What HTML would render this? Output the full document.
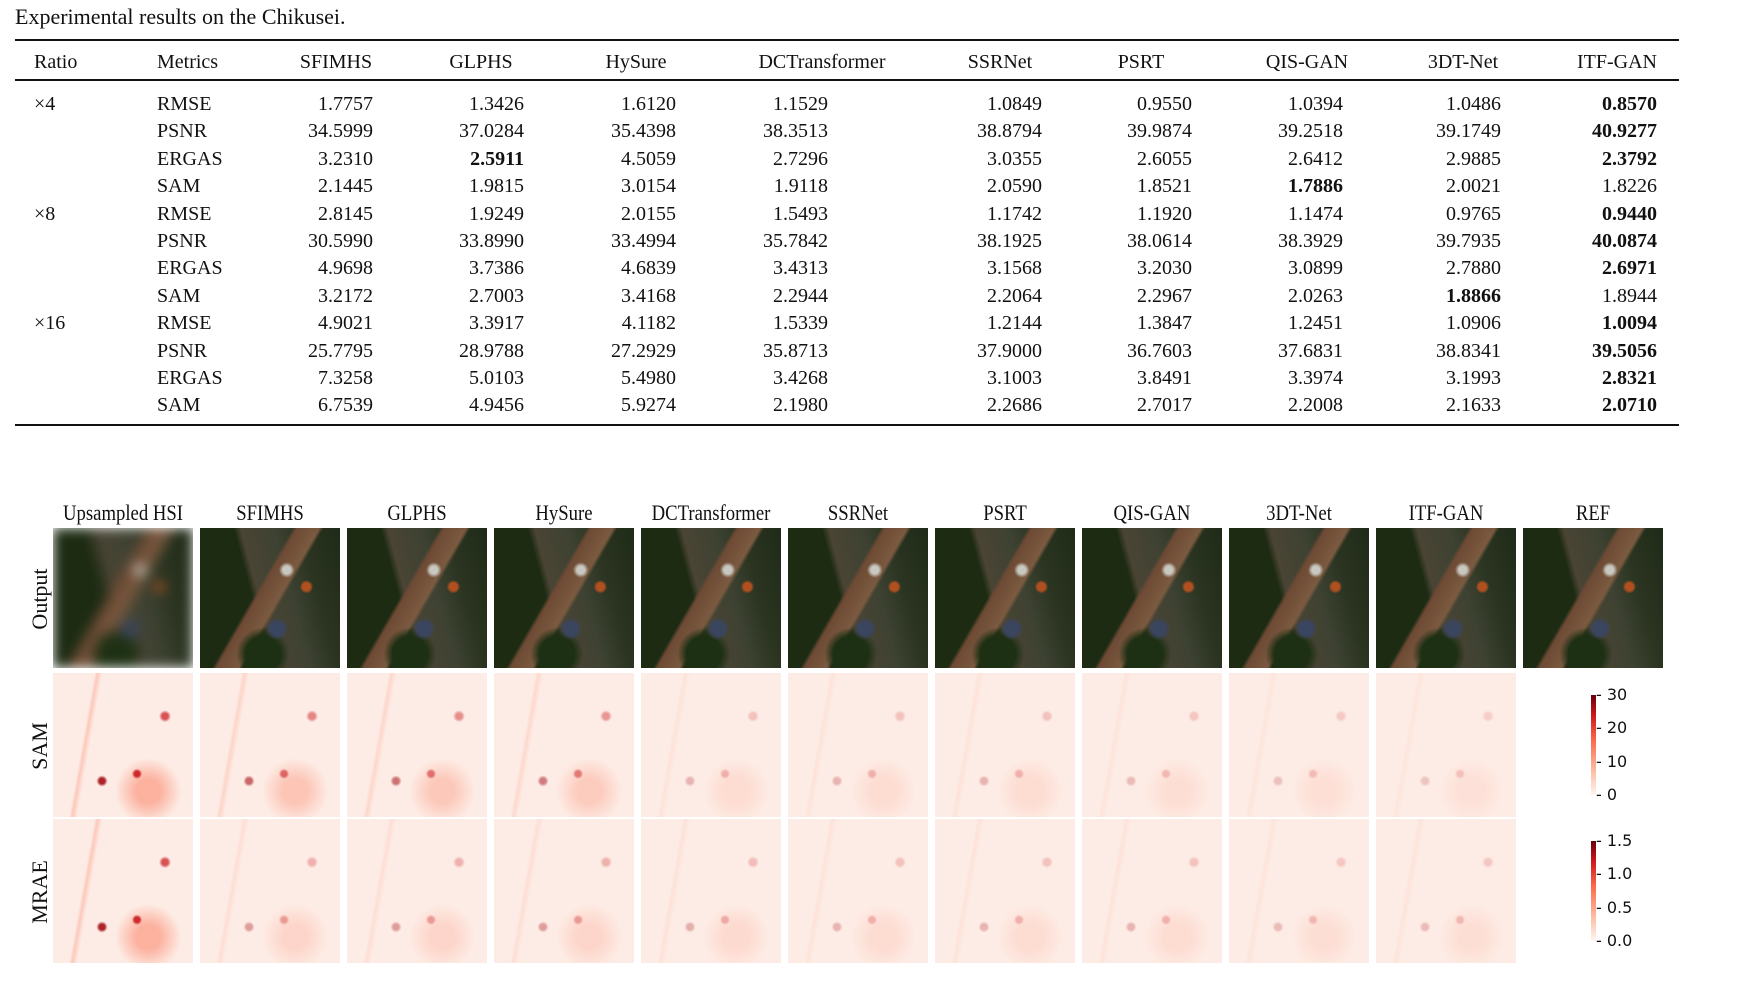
<!DOCTYPE html>
<html><head><meta charset="utf-8">
<style>
body{margin:0;width:1749px;height:998px;background:#fff;position:relative;overflow:hidden;font-family:"Liberation Serif",serif;color:#111}
.abs{position:absolute;white-space:nowrap}
.rule{position:absolute;left:15px;width:1664px;background:#111}
.t{position:absolute;font-size:20px;line-height:20px}
.r{text-align:right}
.tile{position:absolute;width:140px;overflow:hidden}
.lab{position:absolute;font-size:22px;font-family:"Liberation Serif",serif;transform:scaleX(0.85);text-align:center;width:170px}
.rowlab{position:absolute;font-size:22px;transform:rotate(-90deg);transform-origin:center;width:140px;text-align:center}
.cb{position:absolute;width:5px;left:1591px;height:100px;background:linear-gradient(to top,#fff5f0,#fcbba1 25%,#fb6a4a 55%,#cb181d 80%,#67000d)}
.ct{position:absolute;left:1596px;font:16px "DejaVu Sans",sans-serif;line-height:16px}
</style></head><body>
<div class="abs" style="left:15px;top:4px;font-size:22px">Experimental results on the Chikusei.</div>
<div class="rule" style="top:39px;height:2px"></div>
<div class="rule" style="top:79px;height:2px"></div>
<div class="rule" style="top:424px;height:2px"></div>
<div id="table"></div>
<div id="fig"></div>
<script>
const methods=["SFIMHS","GLPHS","HySure","DCTransformer","SSRNet","PSRT","QIS-GAN","3DT-Net","ITF-GAN"];
const rights=[373,524,676,828,1042,1192,1343,1501,1657];
const hdrCenters=[336,481,636,822,1000,1141,1307,1463];
const ratios=["×4","×8","×16"];
const metrics=["RMSE","PSNR","ERGAS","SAM"];
const vals=[
["1.7757","1.3426","1.6120","1.1529","1.0849","0.9550","1.0394","1.0486","*0.8570"],
["34.5999","37.0284","35.4398","38.3513","38.8794","39.9874","39.2518","39.1749","*40.9277"],
["3.2310","*2.5911","4.5059","2.7296","3.0355","2.6055","2.6412","2.9885","*2.3792"],
["2.1445","1.9815","3.0154","1.9118","2.0590","1.8521","*1.7886","2.0021","1.8226"],
["2.8145","1.9249","2.0155","1.5493","1.1742","1.1920","1.1474","0.9765","*0.9440"],
["30.5990","33.8990","33.4994","35.7842","38.1925","38.0614","38.3929","39.7935","*40.0874"],
["4.9698","3.7386","4.6839","3.4313","3.1568","3.2030","3.0899","2.7880","*2.6971"],
["3.2172","2.7003","3.4168","2.2944","2.2064","2.2967","2.0263","*1.8866","1.8944"],
["4.9021","3.3917","4.1182","1.5339","1.2144","1.3847","1.2451","1.0906","*1.0094"],
["25.7795","28.9788","27.2929","35.8713","37.9000","36.7603","37.6831","38.8341","*39.5056"],
["7.3258","5.0103","5.4980","3.4268","3.1003","3.8491","3.3974","3.1993","*2.8321"],
["6.7539","4.9456","5.9274","2.1980","2.2686","2.7017","2.2008","2.1633","*2.0710"]];
const T=document.getElementById('table');
function txt(s,x,y,cls,extra){const d=document.createElement('div');d.className='t '+(cls||'');d.textContent=s;d.style.top=y+'px';
if(cls==='r'){d.style.left=(x-200)+'px';d.style.width='200px';}else if(cls==='c'){d.style.left=(x-100)+'px';d.style.width='200px';d.style.textAlign='center';}else d.style.left=x+'px';
if(extra)d.style.fontWeight='bold';T.appendChild(d);return d;}
let h=txt("Ratio",34,52);


h=txt("Metrics",157,52);


methods.forEach((m,i)=>{let e=i<8?txt(m,hdrCenters[i],52,'c'):txt(m,1657,52,'r');

});
vals.forEach((row,r)=>{const y=94+r*27.4;
if(r%4===0){let e=txt(ratios[r/4],34,y);

}
let e=txt(metrics[r%4],157,y);


row.forEach((v,c)=>{const b=v[0]==='*';let c2=txt(b?v.slice(1):v,rights[c],y,'r',b);

});});

const F=document.getElementById('fig');
const cols=["Upsampled HSI","SFIMHS","GLPHS","HySure","DCTransformer","SSRNet","PSRT","QIS-GAN","3DT-Net","ITF-GAN","REF"];
const samLevel=[0.9,0.6,0.55,0.5,0.25,0.25,0.25,0.22,0.2,0.18];
const maeLevel=[0.9,0.35,0.35,0.35,0.28,0.25,0.25,0.25,0.22,0.22];
const lefts=cols.map((c,i)=>53+i*147);
cols.forEach((c,i)=>{const l=document.createElement('div');l.className='lab';l.textContent=c;
l.style.left=(lefts[i]+70-85)+'px';l.style.top='500px';

F.appendChild(l);
const o=document.createElement('div');o.className='tile';o.style.left=lefts[i]+'px';o.style.top='528px';o.style.height='140px';
const blur=i===0?'filter:blur(6px);':'';
o.innerHTML='<div style="position:absolute;inset:0;'+blur+'background:radial-gradient(circle at 62% 30%,#c8c8c0 0 3%,transparent 6%),radial-gradient(circle at 76% 42%,#b05020 0 3%,transparent 5%),radial-gradient(circle at 55% 72%,#3a4560 0 5%,transparent 9%),radial-gradient(circle at 45% 90%,#1e3014 0 12%,transparent 18%),linear-gradient(120deg,transparent 42%,#6e4a34 44%,#7a5a40 54%,transparent 56%),linear-gradient(75deg,#1d2b13 0 40%,#4a4434 44%,#3e4232 62%,#2a3420 78%,#1f2a18)"></div>';

F.appendChild(o);
if(i<10){[[673,samLevel[i],'sam-map'],[819,maeLevel[i],'mrae-map']].forEach(([y,lv,nm])=>{
const s=document.createElement('div');s.className='tile';s.style.left=lefts[i]+'px';s.style.top=y+'px';s.style.height='144px';
const a=lv;s.style.background='radial-gradient(circle at 35% 75%,rgba(165,15,21,'+a+') 0 2%,transparent 4%),radial-gradient(circle at 60% 70%,rgba(203,24,29,'+a+') 0 2%,transparent 4%),radial-gradient(circle at 80% 30%,rgba(203,24,29,'+a*0.8+') 0 2%,transparent 4%),radial-gradient(circle at 68% 82%,rgba(251,106,74,'+a*0.5+') 0 8%,transparent 22%),linear-gradient(100deg,transparent 25%,rgba(251,106,74,'+a*0.3+') 27%,transparent 30%),#fdece5';

F.appendChild(s);});}
});
[["Output",598],["SAM",745],["MRAE",891]].forEach(([t,y])=>{const d=document.createElement('div');d.className='rowlab';d.textContent=t;d.style.left=(40-70)+'px';d.style.top=(y-12)+'px';

F.appendChild(d);});
const samTicks=["30","20","10","0"];
const maeTicks=["1.5","1.0","0.5","0.0"];
[[695,samTicks,'sam-colorbar'],[841,maeTicks,'mrae-colorbar']].forEach(([y,ticks,nm])=>{const b=document.createElement('div');b.className='cb';b.style.top=y+'px';

F.appendChild(b);
ticks.forEach((t,k)=>{const d=document.createElement('div');d.className='ct';d.textContent='- '+t;d.style.top=(y-8+k*33.3)+'px';

F.appendChild(d);});});
</script>
</body></html>
